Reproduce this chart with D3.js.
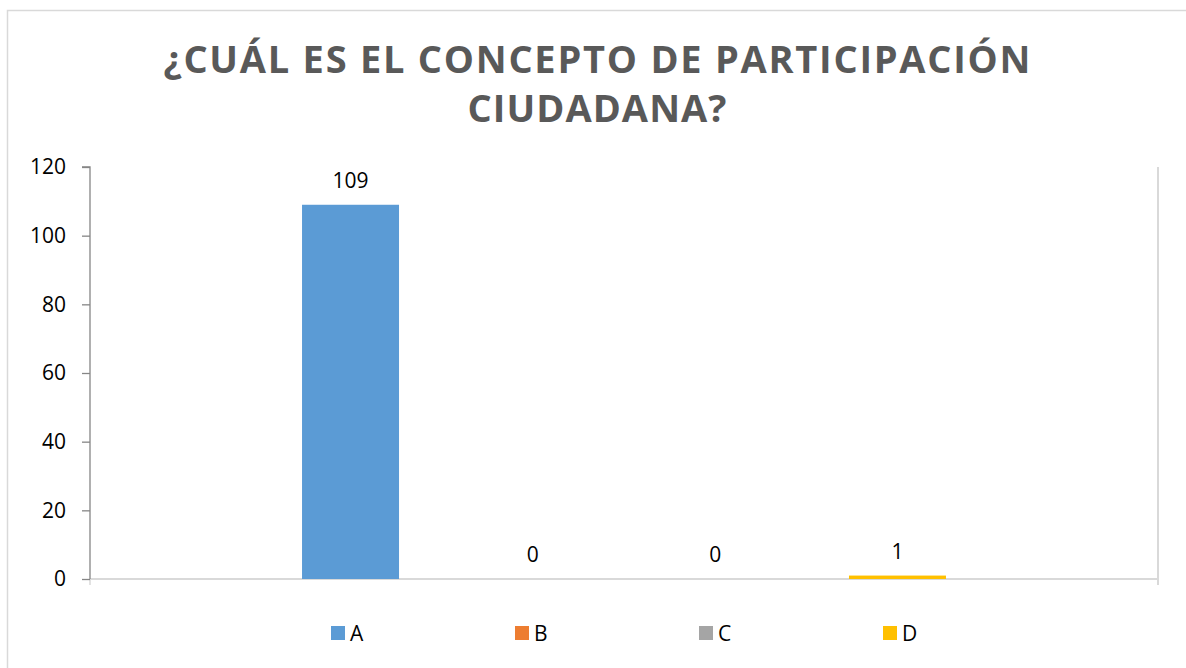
<!DOCTYPE html>
<html><head><meta charset="utf-8">
<script src="https://cdn.jsdelivr.net/npm/d3@7"></script>
<style>body{margin:0;background:#fff}svg{display:block}text{font-family:"Open Sans",sans-serif}</style>
</head><body><svg id="c" width="1186" height="668"></svg>
<script>
const titleLines = ["¿CUÁL ES EL CONCEPTO DE PARTICIPACIÓN", "CIUDADANA?"];
const series = ["A", "B", "C", "D"];
const values = [109, 0, 0, 1];
const colors = ["#5b9bd5", "#ed7d31", "#a5a5a5", "#ffc000"];
const yTicks = [0, 20, 40, 60, 80, 100, 120];

const svg = d3.select("#c");
// chart border (only top/left visible)
svg.append("rect").attr("x", 7.5).attr("y", 10.5).attr("width", 1240).attr("height", 700)
  .attr("fill", "none").attr("stroke", "#d9d9d9").attr("stroke-width", 1.5);

const L = 90, R = 1158, T = 167, B = 579;
const y = d3.scaleLinear().domain([0, 120]).range([B, T]);
const x = d3.scaleBand().domain(series).range([L, R]).paddingInner(0.468).paddingOuter(1.163);

// title
const tl = [[597, 73, 867], [597, 122, 259]];
titleLines.forEach((t, i) => {
  svg.append("text").attr("x", tl[i][0]).attr("y", tl[i][1]).attr("text-anchor", "middle")
    .attr("font-size", 38).attr("font-weight", 700).attr("fill", "#595959")
    .attr("textLength", tl[i][2]).attr("lengthAdjust", "spacing").text(t);
});

// right border line of plot
svg.append("line").attr("x1", R).attr("x2", R).attr("y1", T).attr("y2", B + 6)
  .attr("stroke", "#d9d9d9").attr("stroke-width", 2);

// x axis
svg.append("line").attr("x1", L).attr("x2", R).attr("y1", B).attr("y2", B)
  .attr("stroke", "#d9d9d9").attr("stroke-width", 2);
svg.append("line").attr("x1", L).attr("x2", L).attr("y1", B).attr("y2", B + 6)
  .attr("stroke", "#d9d9d9").attr("stroke-width", 1.5);

// bars
svg.selectAll("rect.bar").data(series).enter().append("rect").attr("class", "bar")
  .attr("x", d => x(d)).attr("width", x.bandwidth())
  .attr("y", (d, i) => y(values[i])).attr("height", (d, i) => B - y(values[i]))
  .attr("fill", (d, i) => colors[i]);

// data labels
svg.selectAll("text.lab").data(series).enter().append("text").attr("class", "lab")
  .attr("x", d => x(d) + x.bandwidth() / 2).attr("y", (d, i) => y(values[i]) - 17)
  .attr("text-anchor", "middle").attr("font-size", 21).attr("fill", "#000")
  .text((d, i) => values[i]);

// y axis
const ya = svg.append("g").attr("transform", `translate(${L},0)`)
  .call(d3.axisLeft(y).tickValues(yTicks).tickSize(8).tickPadding(16));
ya.select(".domain").attr("stroke", "#868686").attr("stroke-width", 1.3).attr("d", `M-8,${T}H0V${B}`);
ya.selectAll(".tick line").attr("stroke", "#868686").attr("stroke-width", 1.3);
ya.selectAll(".tick text").attr("font-size", 21).attr("fill", "#000").attr("font-family", "Open Sans");

// legend
const lg = svg.append("g");
series.forEach((s, i) => {
  const lx = 331 + i * 184;
  lg.append("rect").attr("x", lx).attr("y", 626).attr("width", 14).attr("height", 14).attr("fill", colors[i]);
  lg.append("text").attr("x", lx + 19).attr("y", 641).attr("font-size", 21).attr("fill", "#000").text(s);
});
</script></body></html>
